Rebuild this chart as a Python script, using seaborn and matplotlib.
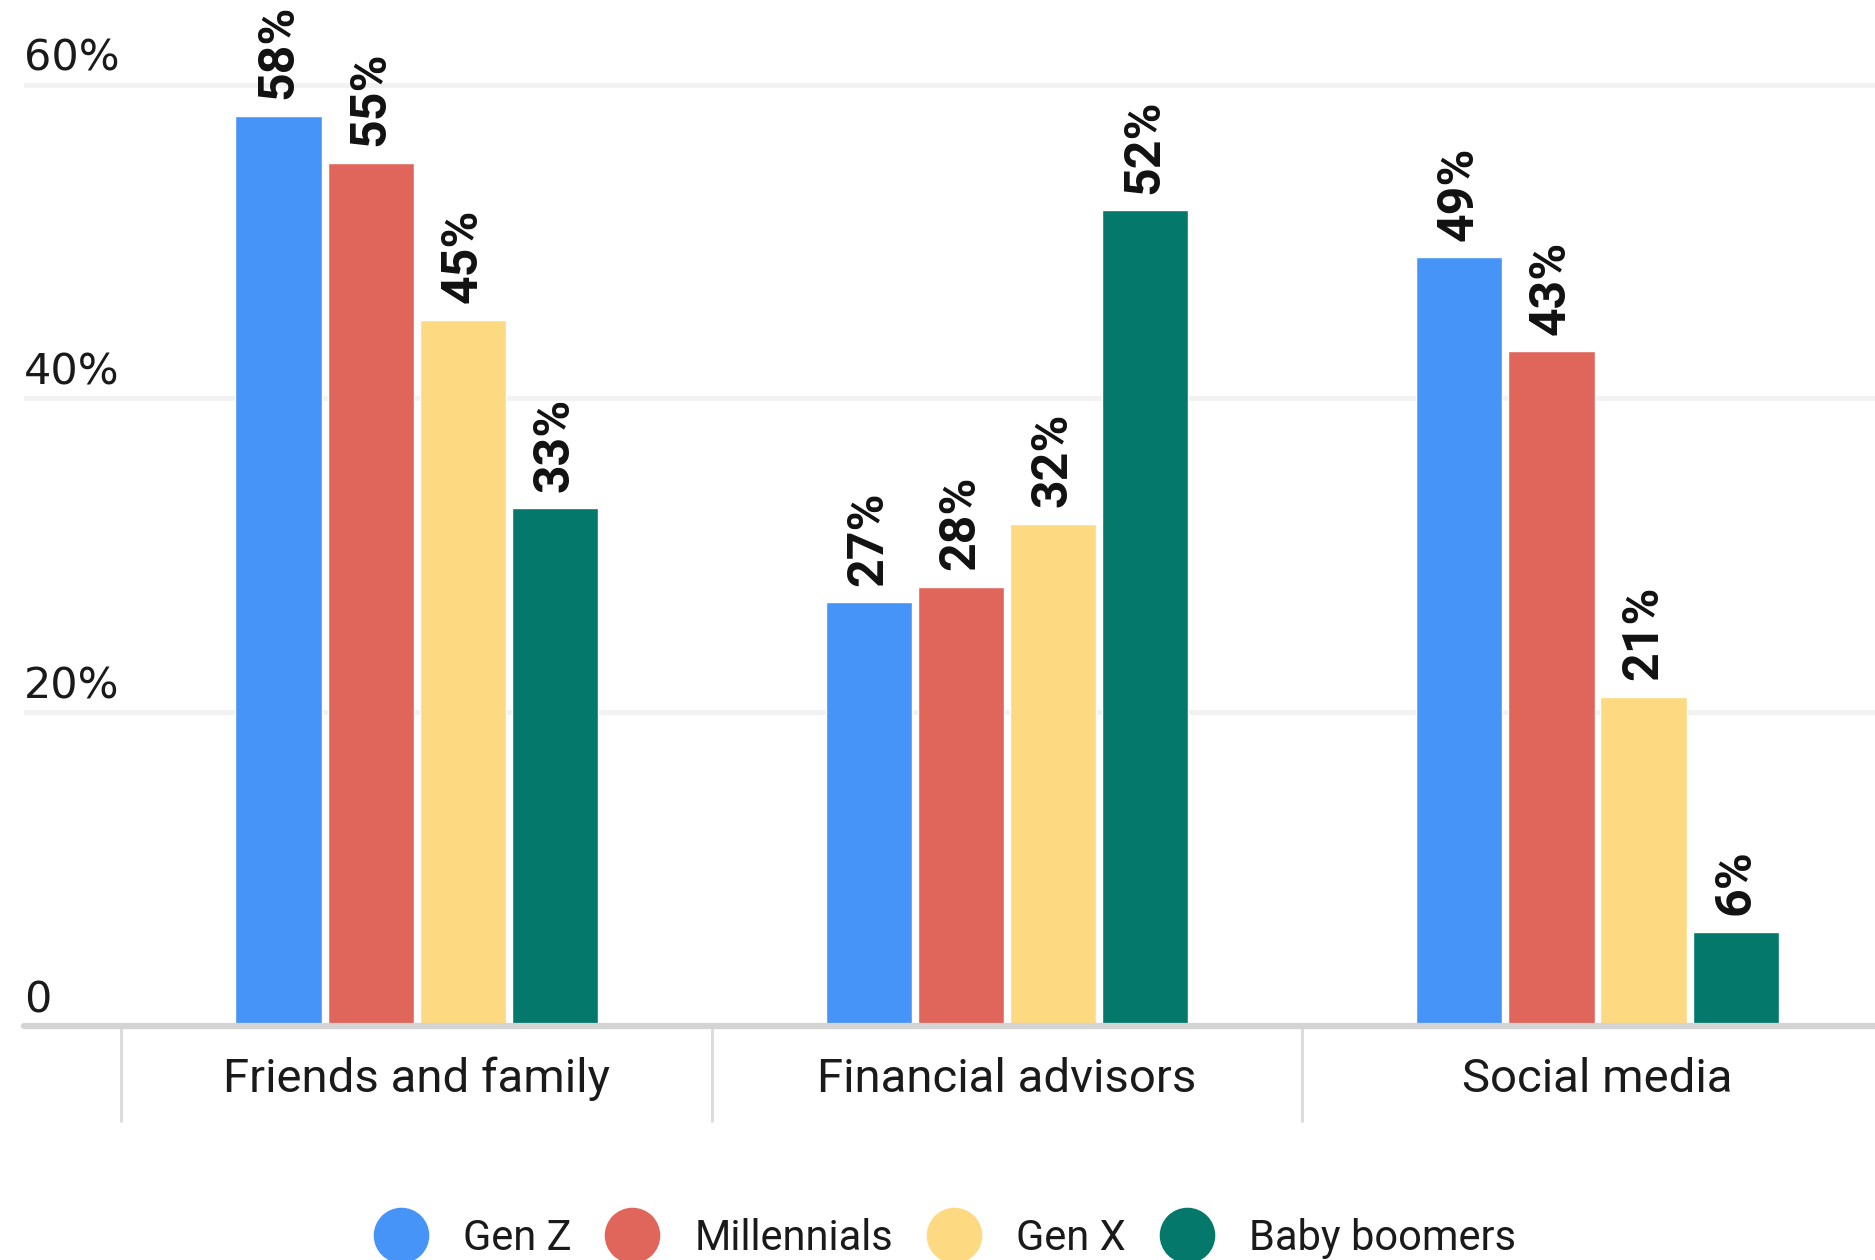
import numpy as np
import pandas as pd
import matplotlib
matplotlib.use("Agg")
import matplotlib.pyplot as plt
from matplotlib.lines import Line2D
import seaborn as sns

# Survey data: share of each generation using each information source
categories = ["Friends and family", "Financial advisors", "Social media"]
generations = ["Gen Z", "Millennials", "Gen X", "Baby boomers"]
gen_z = [58, 27, 49]
millennials = [55, 28, 43]
gen_x = [45, 32, 21]
boomers = [33, 52, 6]
y_ticks = [0, 20, 40, 60]
y_tick_labels = ["0", "20%", "40%", "60%"]

palette = ["#4794f8", "#e0655b", "#fdd981", "#03786b"]

series = [gen_z, millennials, gen_x, boomers]
df = pd.DataFrame(
    [(cat, gen, vals[i])
     for gen, vals in zip(generations, series)
     for i, cat in enumerate(categories)],
    columns=["source", "generation", "share"],
)

sns.set_theme(style="white")
plt.rcParams["font.family"] = ["Roboto", "DejaVu Sans"]

fig = plt.figure(figsize=(18.75, 12.6), dpi=100)
ax = fig.add_axes([0.0128, 0.1857, 0.9872, 0.8143])

sns.barplot(
    data=df, x="source", y="share", hue="generation",
    order=categories, hue_order=generations, palette=palette,
    width=0.624, gap=0.065, saturation=1, legend=False, ax=ax,
    err_kws={"linewidth": 0},
)

ax.set_ylim(0, 65.4)
ax.set_xlim(-0.665, 2.470)

# light horizontal grid
ax.set_axisbelow(True)
ax.set_yticks(y_ticks)
ax.yaxis.grid(True, color="#f2f2f2", linewidth=3.6)
ax.xaxis.grid(False)
for s in ax.spines.values():
    s.set_visible(False)
ax.tick_params(axis="both", length=0)
ax.tick_params(axis="y", labelleft=False)
ax.set_xlabel("")
ax.set_ylabel("")

# y labels sit above their gridlines at the left edge
for v, lab in zip(y_ticks, y_tick_labels):
    ax.annotate(lab, xy=(0, v), xycoords=ax.get_yaxis_transform(),
                xytext=(0, 10), textcoords="offset points",
                ha="left", va="baseline", fontsize=31, color="#1a1a1a",
                family=["DejaVu Sans"])

# baseline
ax.axhline(0, color="#d4d4d4", linewidth=4.5, zorder=4, clip_on=False)

# separators between category labels
bounds = np.arange(len(categories) + 1) - 0.5
ax.vlines(bounds, -6.1, 0, colors="#dcdcdc", linewidth=2.2,
          clip_on=False, zorder=3)

ax.set_xticks(range(len(categories)))
ax.set_xticklabels(categories, fontsize=34, color="#1a1a1a")
ax.tick_params(axis="x", pad=22)

# value labels above bars
for cont in ax.containers:
    ax.bar_label(cont, labels=[f"{v:.0f}%" for v in cont.datavalues],
                 rotation=90, padding=12, fontsize=36, fontweight="bold",
                 color="#111111")

handles = [Line2D([0], [0], marker="o", linestyle="", markersize=39,
                  markerfacecolor=c, markeredgecolor=c) for c in palette]
fig.legend(handles, generations, loc="center", bbox_to_anchor=(0.504, 0.017),
           ncol=4, frameon=False, fontsize=30, handlelength=1.3,
           handletextpad=0.85, columnspacing=0.8, labelcolor="#1a1a1a")

fig.savefig("out.png", dpi=100)
